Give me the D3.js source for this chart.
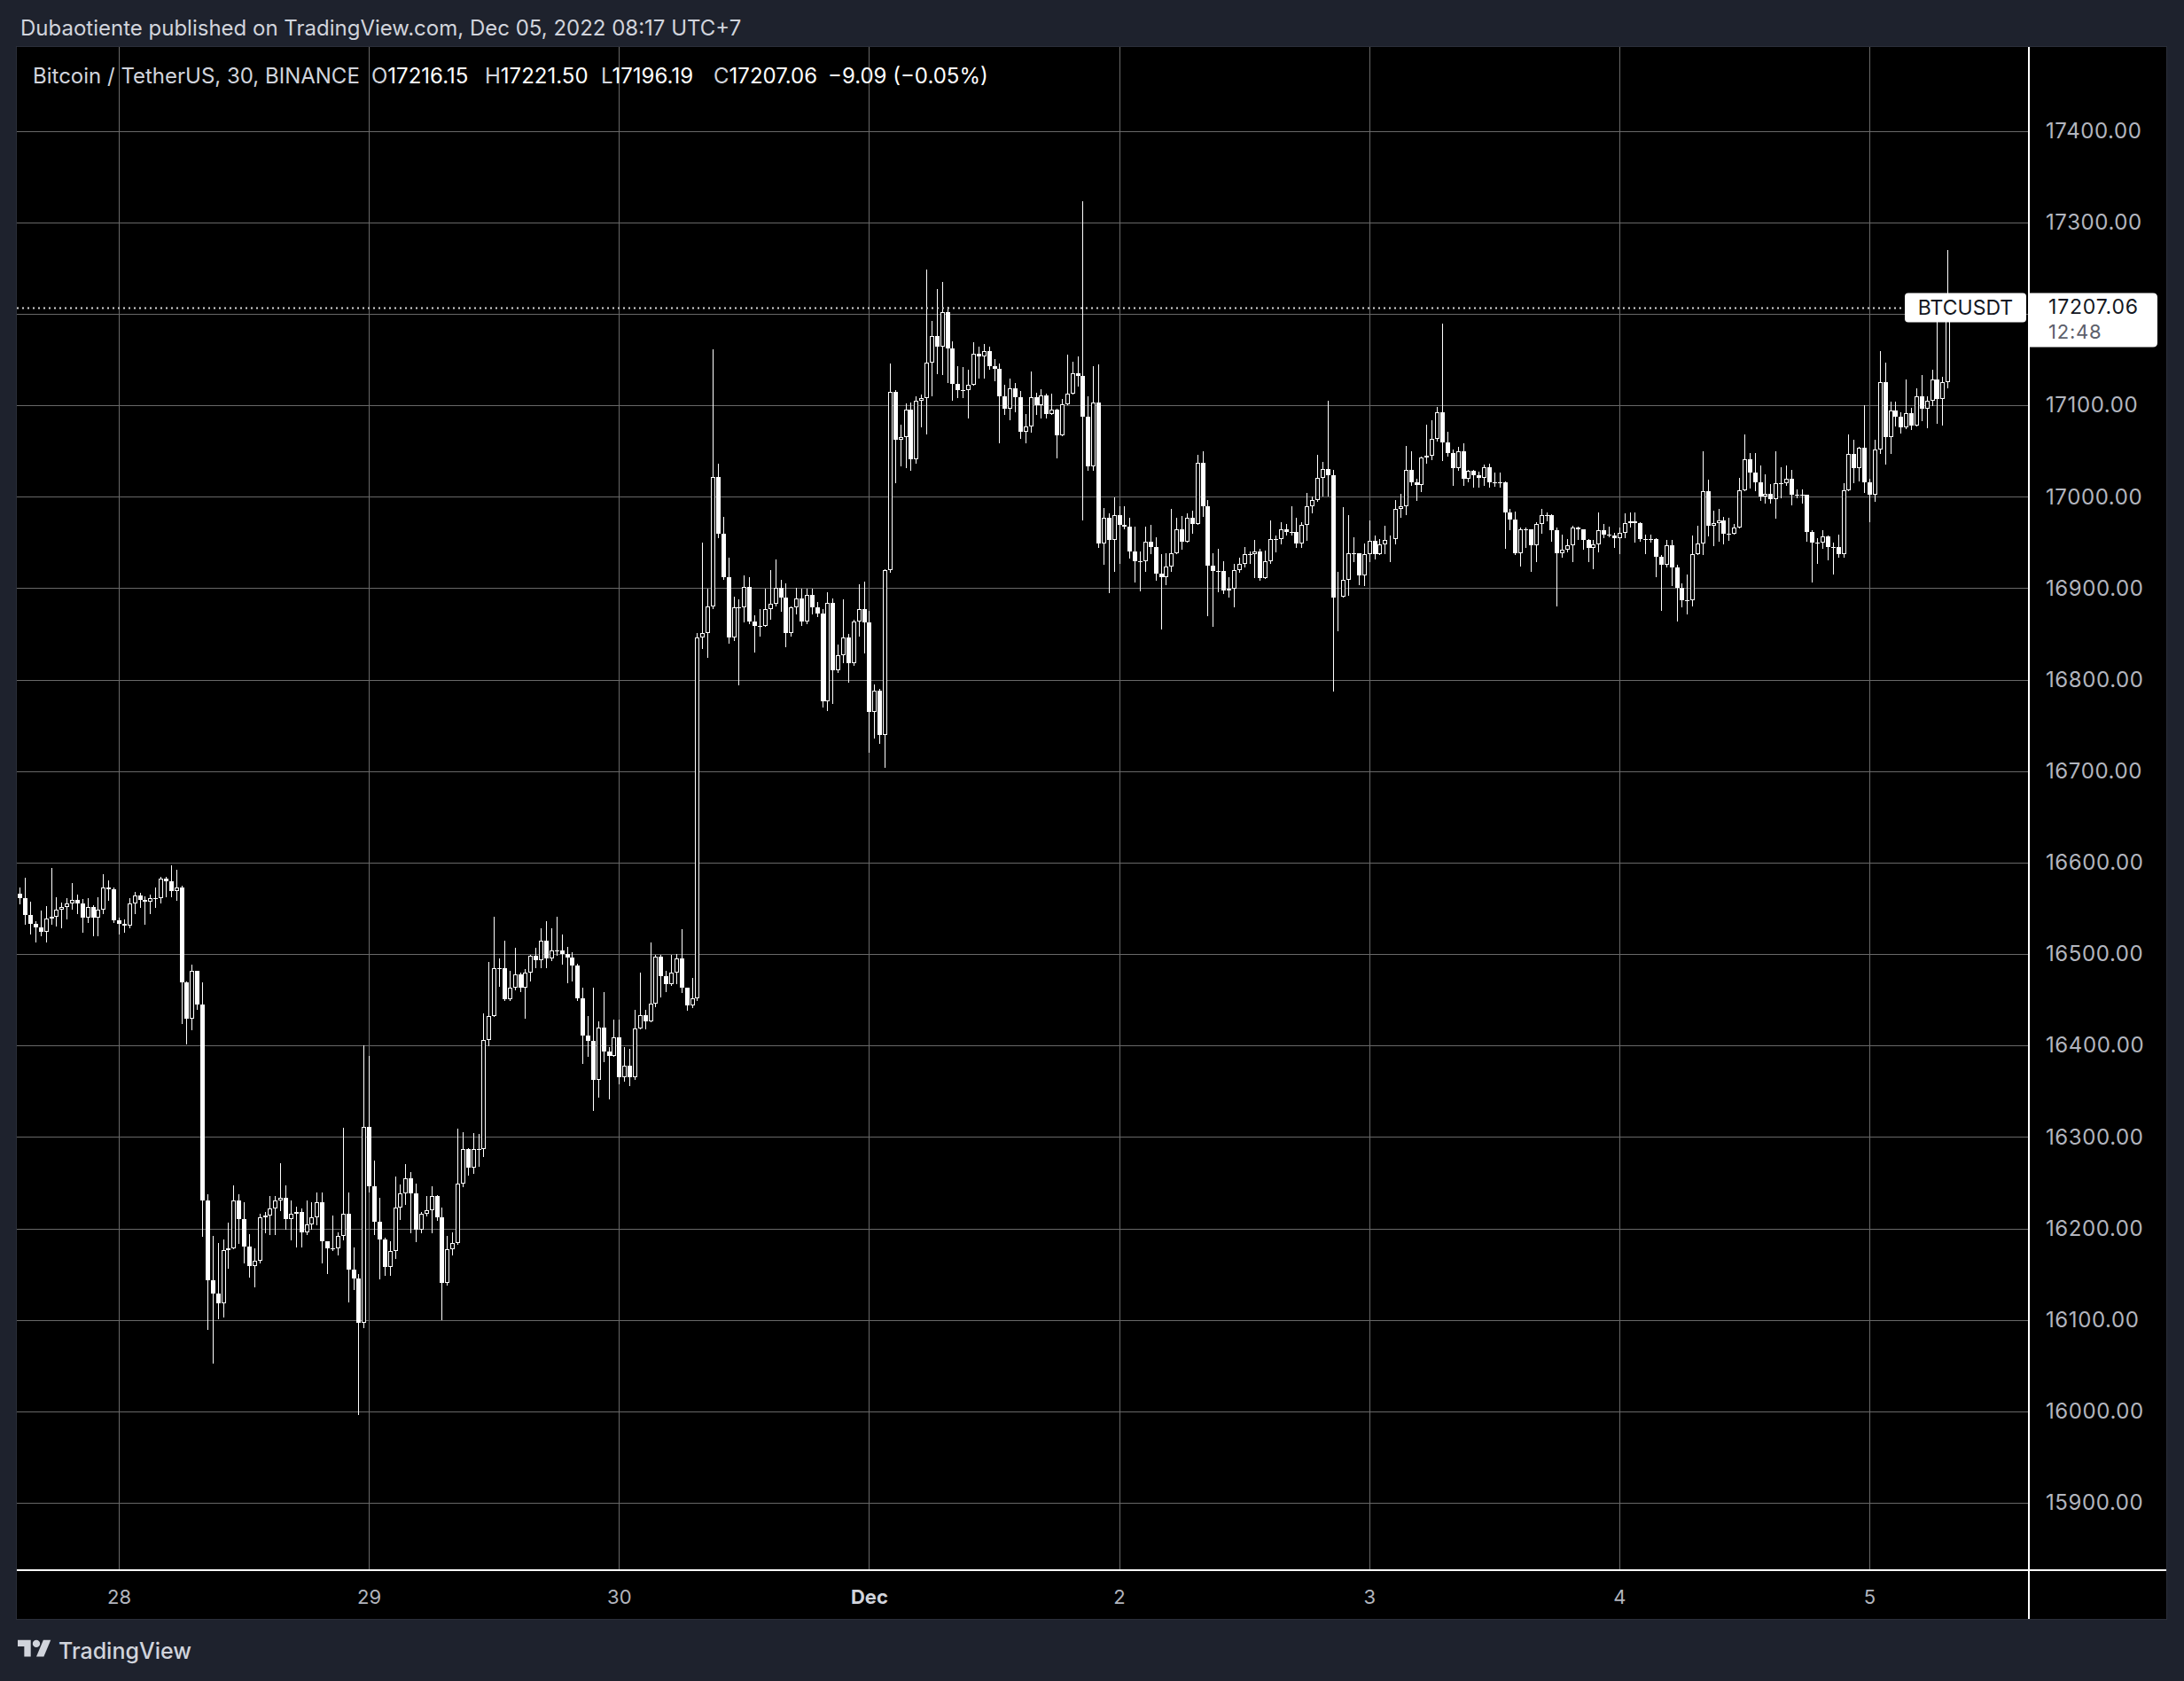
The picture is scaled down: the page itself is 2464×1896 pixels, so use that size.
<!DOCTYPE html>
<html><head><meta charset="utf-8">
<script src="https://cdn.jsdelivr.net/npm/d3@7"></script>
<style>html,body{margin:0;padding:0;background:#1e222d;}svg{display:block}</style>
</head><body><svg id="chart" width="2464" height="1896"></svg>
<script>
// ---------------- DATA (BTC/USDT, 30-minute candles, UTC+7) ----------------
const startTime = Date.UTC(2022, 10, 27, 14, 30);   // first candle: Nov 27 14:30
const firstOpen = 16566;
// closes per candle (open = previous close)
const closes = [
 // Nov 27 (14:30 - 23:30)
 16561,16543,16533,16529,16524,16539,16541,16549,16551,16555,16559,16555,16540,16551,16540,16549,16573,16571,16537,
 // Nov 28
 16533,16531,16555,16564,16559,16557,16561,16561,16582,16580,16569,16573,16469,16429,16482,16445,16231,16143,16129,16118,16176,16178,16231,16210,
 16180,16159,16165,16212,16214,16222,16231,16233,16210,16216,16218,16196,16204,16212,16229,16186,16178,16178,16192,16216,16155,16145,16097,16311,
 // Nov 29
 16246,16207,16188,16158,16175,16223,16238,16255,16238,16199,16216,16220,16235,16212,16140,16177,16184,16249,16287,16266,16287,16287,16406,16432,
 16485,16485,16451,16463,16478,16463,16480,16498,16493,16515,16495,16504,16504,16500,16496,16487,16452,16411,16405,16362,16420,16393,16389,16409,
 // Nov 30
 16365,16378,16365,16419,16433,16426,16446,16497,16476,16467,16480,16495,16463,16444,16452,16846,16851,16880,17022,16960,16912,16846,16879,16879,
 16901,16864,16859,16859,16877,16883,16900,16890,16851,16879,16889,16864,16893,16879,16872,16776,16884,16810,16827,16846,16818,16864,16877,16863,
 // Dec 1
 16765,16788,16740,16920,17115,17062,17065,17095,17041,17105,17108,17147,17176,17164,17202,17162,17123,17117,17117,17122,17156,17153,17159,17143,
 17140,17110,17096,17119,17109,17071,17077,17109,17100,17111,17090,17095,17067,17101,17113,17135,17132,17088,17033,17103,16949,16977,16953,16980,
 // Dec 2
 16969,16967,16940,16930,16930,16951,16945,16916,16912,16924,16938,16964,16951,16977,16970,17037,16990,16925,16919,16919,16898,16899,16920,16927,
 16937,16937,16940,16911,16930,16954,16954,16964,16962,16962,16949,16969,16990,16996,17021,17030,17024,16890,16891,16909,16938,16938,16914,16937,
 // Dec 3
 16952,16937,16948,16953,16954,16987,16990,17029,17016,17013,17043,17045,17063,17092,17059,17048,17031,17050,17020,17028,17024,17021,17032,17016,
 17016,17016,16983,16975,16938,16964,16964,16947,16970,16980,16980,16963,16938,16942,16947,16966,16964,16953,16944,16948,16963,16959,16958,16955,
 // Dec 4
 16961,16971,16973,16971,16954,16954,16954,16934,16926,16947,16923,16900,16887,16887,16937,16949,17006,16968,16971,16974,16960,16960,16966,17007,
 17041,17026,17016,17000,17003,16997,17015,17015,17020,17002,17002,17002,16962,16950,16950,16957,16945,16945,16937,17007,17047,17031,17054,17016,
 // Dec 5 (00:00 - 08:00)
 17002,17052,17125,17065,17094,17088,17076,17091,17078,17110,17096,17105,17128,17107,17125,17216.15,17207.06
];
const highs = [
 16573,16583,16557,16536,16548,16552,16594,16562,16556,16561,16578,16565,16560,16561,16553,16562,16587,16581,16573,
 16540,16538,16561,16568,16567,16563,16565,16573,16584,16584,16597,16592,16575,16470,16488,16482,16469,16237,16192,16184,16188,16206,16247,16237,
 16229,16194,16178,16216,16218,16235,16235,16271,16247,16231,16224,16222,16231,16229,16239,16239,16184,16214,16196,16310,16239,16179,16150,16400,
 16389,16274,16233,16190,16186,16257,16248,16270,16262,16249,16218,16235,16246,16236,16223,16192,16196,16309,16305,16288,16304,16303,16435,16491,
 16541,16495,16515,16482,16507,16480,16484,16499,16507,16528,16536,16528,16541,16521,16508,16502,16489,16463,16432,16463,16426,16458,16398,16428,
 16428,16398,16396,16439,16480,16439,16513,16499,16499,16482,16499,16500,16527,16462,16474,16851,16950,16899,17161,17036,16978,16933,16891,16888,
 16914,16912,16870,16877,16899,16920,16931,16909,16905,16880,16900,16899,16899,16899,16885,16877,16896,16889,16838,16888,16850,16866,16904,16907,
 16875,16795,16790,16921,17146,17117,17079,17102,17103,17110,17112,17248,17192,17227,17235,17208,17170,17143,17142,17139,17169,17164,17167,17164,
 17151,17146,17122,17129,17124,17116,17090,17137,17114,17118,17113,17113,17096,17107,17155,17148,17153,17323,17110,17143,17145,16988,16982,16999,
 16990,16990,16977,16967,16940,16967,16969,16956,16937,16938,16987,16977,16979,16982,16985,17046,17050,16996,16938,16943,16930,16912,16927,16933,
 16945,16940,16953,16943,16941,16974,16958,16972,16970,16990,16977,16972,17004,17000,17046,17038,17105,17029,16918,16989,16980,16956,16938,16949,
 16974,16958,16954,16968,16958,16996,17003,17056,17050,17020,17044,17079,17084,17098,17189,17071,17052,17055,17058,17029,17029,17027,17035,17036,
 17026,17026,17017,16987,16984,16966,16966,16964,16972,16987,16983,16981,16966,16959,16954,16968,16967,16962,16954,16953,16983,16970,16967,16961,
 16966,16982,16983,16983,16972,16959,16959,16955,16936,16953,16953,16926,16905,16915,16958,16968,17050,17019,16985,16987,16978,16977,16970,17021,
 17068,17048,17048,17034,17025,17014,17050,17032,17034,17029,17008,17008,17002,16963,16955,16963,16958,16950,16959,17015,17068,17062,17055,17100,
 17020,17062,17159,17147,17104,17104,17092,17128,17097,17119,17133,17110,17139,17191,17131,17270,17221.50
];
const lows = [
 16555,16533,16522,16514,16520,16514,16533,16531,16529,16539,16550,16545,16524,16535,16520,16520,16545,16559,16535,
 16522,16524,16529,16545,16551,16533,16545,16551,16556,16563,16563,16559,16424,16402,16418,16440,16192,16090,16053,16102,16104,16157,16178,16184,
 16163,16147,16137,16163,16196,16194,16194,16220,16200,16188,16180,16180,16194,16200,16204,16163,16151,16176,16171,16188,16120,16134,15997,16092,
 16240,16194,16145,16149,16149,16168,16210,16227,16196,16186,16196,16214,16196,16209,16101,16138,16171,16183,16246,16259,16261,16268,16279,16400,
 16432,16465,16450,16450,16461,16459,16430,16471,16486,16486,16486,16493,16499,16489,16469,16471,16450,16381,16389,16329,16344,16383,16342,16389,
 16359,16361,16357,16363,16419,16419,16426,16443,16454,16459,16466,16468,16458,16439,16442,16450,16835,16825,16878,16956,16910,16840,16843,16795,
 16864,16862,16831,16848,16859,16867,16881,16875,16836,16848,16872,16860,16862,16872,16869,16771,16767,16774,16808,16819,16798,16816,16848,16830,
 16721,16737,16731,16705,16918,17016,17034,17032,17029,17037,17077,17069,17111,17135,17134,17125,17106,17109,17109,17087,17122,17130,17130,17140,
 17127,17059,17090,17085,17093,17064,17059,17071,17090,17087,17087,17090,17043,17067,17101,17113,17121,16975,17029,17029,16945,16927,16896,16919,
 16928,16965,16933,16907,16898,16919,16938,16909,16856,16904,16919,16938,16943,16951,16961,16970,16979,16870,16859,16897,16895,16891,16880,16918,
 16924,16928,16912,16909,16911,16928,16940,16949,16959,16959,16945,16945,16953,16983,16995,17001,17001,16788,16854,16893,16893,16930,16904,16903,
 16930,16932,16938,16938,16930,16949,16978,16981,17013,16996,17006,17037,17041,17061,17040,17045,17013,17029,17013,17017,17011,17011,17013,17011,
 17012,17011,16944,16964,16937,16925,16945,16919,16930,16961,16974,16952,16881,16934,16940,16930,16954,16943,16930,16922,16940,16956,16957,16945,
 16938,16956,16967,16951,16952,16938,16951,16913,16876,16924,16903,16865,16880,16872,16881,16937,16937,16958,16947,16952,16949,16953,16960,16966,
 17007,17010,17007,16996,16994,16994,16977,16999,17013,16992,16999,16994,16952,16907,16928,16944,16931,16916,16934,16934,17007,17016,17018,17005,
 16973,16995,17048,17036,17048,17078,17070,17075,17074,17078,17084,17076,17100,17081,17079,17120,17196.19
];
const priceTicks = [15900,16000,16100,16200,16300,16400,16500,16600,16700,16800,16900,17000,17100,17200,17300,17400];
const dayTicks = [[2022,10,28],[2022,10,29],[2022,10,30],[2022,11,1],[2022,11,2],[2022,11,3],[2022,11,4],[2022,11,5]];
const dayLabels = ['28','29','30','Dec','2','3','4','5'];
const symbolName = 'Bitcoin / TetherUS, 30, BINANCE';
const ohlcLegend = [['O','17216.15'],['H','17221.50'],['L','17196.19'],['C','17207.06']];
const changeText = '\u22129.09 (\u22120.05%)';
const tickerLabel = 'BTCUSDT';
const countdown = '12:48';

// ---------------- LAYOUT ----------------
const W = 2464, H = 1896;
const panel = {x0: 19, y0: 53, x1: 2444, y1: 1826};
const plotRight = 2289, plotBottom = 1771;
const FONT = 'Inter, "Noto Sans", Roboto, sans-serif';

const svg = d3.select('#chart');
svg.append('rect').attr('width', W).attr('height', H).attr('fill', '#1e222d');
svg.append('rect').attr('x', panel.x0 - 0.5).attr('y', panel.y0 - 0.5)
  .attr('width', panel.x1 - panel.x0 + 1).attr('height', panel.y1 - panel.y0 + 1)
  .attr('fill', '#000').attr('stroke', '#2a2e39');

const x = d3.scaleUtc()
  .domain([Date.UTC(2022, 10, 28), Date.UTC(2022, 11, 5)])
  .range([134, 2109]);
const y = d3.scaleLinear().domain([15900, 17400]).range([1695, 147.7]);

const HALF_HOUR = 30 * 60 * 1000;
const candles = closes.map((c, i) => {
  const o = i === 0 ? firstOpen : closes[i - 1];
  return {t: new Date(startTime + i * HALF_HOUR), o, c,
          h: Math.max(highs[i], o, c), l: Math.min(lows[i], o, c)};
});

// clip
svg.append('clipPath').attr('id', 'plotClip').append('rect')
  .attr('x', panel.x0).attr('y', panel.y0)
  .attr('width', plotRight - panel.x0).attr('height', plotBottom - panel.y0);

// grid
const grid = svg.append('g').attr('shape-rendering', 'crispEdges');
grid.selectAll('line.h').data(priceTicks).join('line').attr('class', 'h')
  .attr('x1', panel.x0).attr('x2', plotRight)
  .attr('y1', d => Math.round(y(d)) + 0.5).attr('y2', d => Math.round(y(d)) + 0.5)
  .attr('stroke', '#686868').attr('stroke-width', 1);
const dayDates = dayTicks.map(d => new Date(Date.UTC(d[0], d[1], d[2])));
grid.selectAll('line.v').data(dayDates).join('line').attr('class', 'v')
  .attr('x1', d => Math.round(x(d)) + 0.5).attr('x2', d => Math.round(x(d)) + 0.5)
  .attr('y1', panel.y0).attr('y2', plotBottom)
  .attr('stroke', '#686868').attr('stroke-width', 1);

// candles
const cg = svg.append('g').attr('clip-path', 'url(#plotClip)').attr('shape-rendering', 'crispEdges');
cg.selectAll('line.wick').data(candles).join('line').attr('class', 'wick')
  .attr('x1', d => Math.round(x(d.t)) + 0.5).attr('x2', d => Math.round(x(d.t)) + 0.5)
  .attr('y1', d => Math.round(y(d.h))).attr('y2', d => Math.round(y(d.l)) + 1)
  .attr('stroke', '#fff').attr('stroke-width', 1);
cg.selectAll('rect.body').data(candles).join('rect').attr('class', 'body')
  .each(function(d) {
    const cx = Math.round(x(d.t));
    const top = Math.round(y(Math.max(d.o, d.c)));
    const bot = Math.round(y(Math.min(d.o, d.c)));
    const sel = d3.select(this);
    if (d.c > d.o) {
      sel.attr('x', cx - 1.5).attr('width', 4)
         .attr('y', top + 0.5).attr('height', Math.max(bot - top - 1, 0))
         .attr('fill', '#000').attr('stroke', '#fff').attr('stroke-width', 1);
    } else {
      sel.attr('x', cx - 2).attr('width', 5)
         .attr('y', top).attr('height', Math.max(bot - top, 1))
         .attr('fill', '#fff');
    }
  });

const lastClose = closes[closes.length - 1];
const yLast = Math.round(y(lastClose));
const lblH = 33;
const priceBoxW = 145, priceBoxH = 61;
const pby = yLast - lblH / 2;

// axis separator lines
svg.append('rect').attr('x', plotRight - 1).attr('y', panel.y0).attr('width', 2)
  .attr('height', panel.y1 - panel.y0).attr('fill', '#fff');
svg.append('rect').attr('x', panel.x0).attr('y', plotBottom - 1).attr('width', panel.x1 - panel.x0)
  .attr('height', 2).attr('fill', '#fff');

// price axis (labels hidden behind the last-price label are not drawn, as in TradingView)
const visibleTicks = priceTicks.filter(p => y(p) < pby - 14 || y(p) > pby + priceBoxH + 14);
const yAxis = d3.axisRight(y).tickValues(visibleTicks).tickFormat(d3.format('.2f'))
  .tickSize(0).tickPadding(19);
const ya = svg.append('g').attr('transform', `translate(${plotRight},0)`).call(yAxis);
ya.select('.domain').remove();
ya.selectAll('text').attr('fill', '#b2b5be').attr('font-size', 24)
  .attr('font-family', FONT).attr('letter-spacing', 0.6);

// time axis
const xAxis = d3.axisBottom(x).tickValues(dayDates).tickFormat((d, i) => dayLabels[i])
  .tickSize(0).tickPadding(22);
const xa = svg.append('g').attr('transform', `translate(0,${plotBottom})`).call(xAxis);
xa.select('.domain').remove();
xa.selectAll('text').attr('fill', (d, i) => dayLabels[i] === 'Dec' ? '#d1d4dc' : '#b2b5be')
  .attr('font-weight', (d, i) => dayLabels[i] === 'Dec' ? 700 : 400)
  .attr('font-size', 22).attr('font-family', FONT);

// header
svg.append('text').attr('x', 23).attr('y', 32).attr('dy', '0.35em')
  .attr('fill', '#d1d4dc').attr('font-size', 24).attr('font-family', FONT)
  .text('Dubaotiente published on TradingView.com, Dec 05, 2022 08:17 UTC+7');

// legend row
const legend = svg.append('text').attr('x', 37).attr('y', 86).attr('dy', '0.35em')
  .attr('font-size', 24).attr('font-family', FONT);
legend.append('tspan').attr('fill', '#d1d4dc').text(symbolName);
const legendX = [419, 547, 678, 805];
ohlcLegend.forEach((p, i) => {
  legend.append('tspan').attr('x', legendX[i]).attr('fill', '#d1d4dc').text(p[0]);
  legend.append('tspan').attr('fill', '#ffffff').text(p[1]);
});
legend.append('tspan').attr('x', 934).attr('fill', '#ffffff').text(changeText);

// last-price dotted line + ticker label + price label
const dotted = svg.append('line');
const tick = svg.append('g');
const tRect = tick.append('rect');
const tText = tick.append('text').attr('font-size', 23).attr('font-family', FONT)
  .attr('fill', '#131722').attr('text-anchor', 'middle').attr('dy', '0.35em').text(tickerLabel);
const tw = tText.node().getComputedTextLength();
const tBoxW = Math.round(tw + 30);
const tBoxX = plotRight - 3 - tBoxW;
dotted.attr('x1', panel.x0).attr('x2', tBoxX).attr('y1', yLast + 0.5).attr('y2', yLast + 0.5)
  .attr('stroke', '#d6d6d6').attr('stroke-width', 2).attr('stroke-dasharray', '2 4');
tRect.attr('x', tBoxX).attr('y', yLast - lblH / 2).attr('width', tBoxW)
  .attr('height', lblH).attr('rx', 4).attr('fill', '#ffffff');
tText.attr('x', tBoxX + tBoxW / 2).attr('y', yLast);

const pbx = plotRight, r = 5;
svg.append('path').attr('fill', '#ffffff')
  .attr('d', `M${pbx},${pby}H${pbx + priceBoxW - r}Q${pbx + priceBoxW},${pby} ${pbx + priceBoxW},${pby + r}` +
             `V${pby + priceBoxH - r}Q${pbx + priceBoxW},${pby + priceBoxH} ${pbx + priceBoxW - r},${pby + priceBoxH}H${pbx}Z`);
svg.append('text').attr('x', pbx + 22).attr('y', yLast - 1).attr('dy', '0.35em')
  .attr('font-size', 23).attr('font-family', FONT).attr('fill', '#131722').attr('letter-spacing', 0.8)
  .text(d3.format('.2f')(lastClose));
svg.append('text').attr('x', pbx + 22).attr('y', yLast + 27).attr('dy', '0.35em')
  .attr('font-size', 22).attr('font-family', FONT).attr('fill', '#5d606b').attr('letter-spacing', 0.8)
  .text(countdown);

// footer logo
const logo = svg.append('g').attr('transform', 'translate(20,1845.5) scale(1.05)').attr('fill', '#d1d4dc');
logo.append('path').attr('d', 'M14 22H7V11H0V4h14v18z');
logo.append('circle').attr('cx', 20).attr('cy', 8).attr('r', 4);
logo.append('path').attr('d', 'M28 22h-8l7.5-18h8L28 22z');
svg.append('text').attr('x', 66).attr('y', 1862).attr('dy', '0.35em')
  .attr('font-size', 25).attr('font-family', FONT).attr('fill', '#d1d4dc').attr('font-weight', 500)
  .text('TradingView');
</script></body></html>
